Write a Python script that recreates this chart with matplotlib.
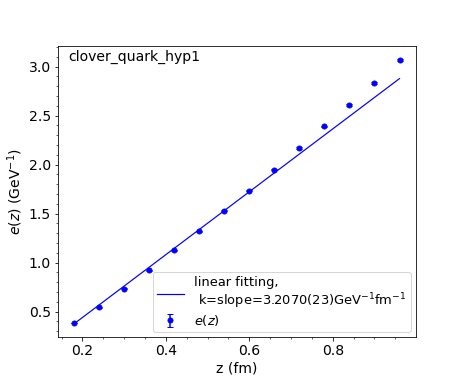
import numpy as np
import matplotlib
matplotlib.use("Agg")
import matplotlib.pyplot as plt
from matplotlib.ticker import AutoMinorLocator

z = [0.18, 0.24, 0.30, 0.36, 0.42, 0.48, 0.54, 0.60, 0.66, 0.72, 0.78, 0.84, 0.90, 0.96]
ez = [0.384, 0.544, 0.735, 0.923, 1.124, 1.319, 1.531, 1.735, 1.950, 2.168, 2.390, 2.608, 2.836, 3.066]
ez_err = [0.004, 0.004, 0.005, 0.005, 0.006, 0.006, 0.007, 0.007, 0.008, 0.008, 0.009, 0.009, 0.010, 0.010]
slope = 3.207
intercept = -0.201
title = "clover_quark_hyp1"

plt.rcParams["font.size"] = 14
DPI = 72
fig = plt.figure(figsize=(463 / DPI, 386 / DPI), dpi=DPI)
ax = fig.add_axes([0.125, 0.127, 0.773, 0.754])

zz = np.array([z[0], z[-1]])
ax.plot(zz, slope * zz + intercept, color="blue", lw=1.2,
        label="linear fitting,\n k=slope=3.2070(23)GeV$^{-1}$fm$^{-1}$")
ax.errorbar(z, ez, yerr=ez_err, fmt="o", color="blue", ms=5, capsize=3,
            label="$e(z)$")

ax.xaxis.set_minor_locator(AutoMinorLocator(4))
ax.yaxis.set_minor_locator(AutoMinorLocator(5))
ax.set_xlabel("z (fm)")
ax.set_ylabel("$e(z)$ (GeV$^{-1}$)")
ax.text(0.03, 0.985, title, transform=ax.transAxes, va="top", ha="left")
ax.legend(loc="lower right", fontsize=13, labelspacing=0.15, handlelength=2.1,
          borderpad=0.3, borderaxespad=0.4)

fig.savefig("out.png", dpi=DPI)
